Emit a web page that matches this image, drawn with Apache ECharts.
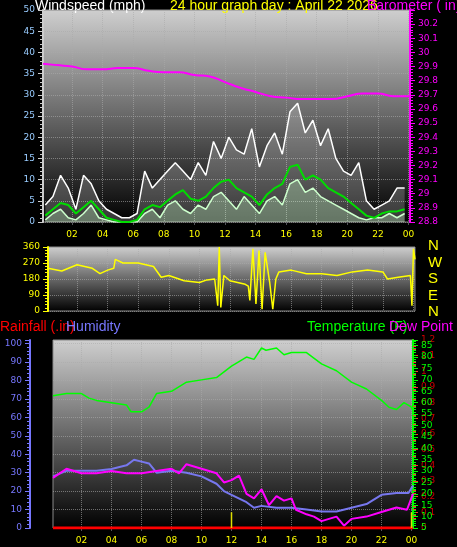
<!DOCTYPE html>
<html><head><meta charset="utf-8">
<script src="https://cdn.jsdelivr.net/npm/echarts@6/dist/echarts.min.js"></script>
<style>html,body{margin:0;background:#000}#c{width:457px;height:547px}</style>
</head><body><div id="c"></div>
<script>
// half-hour samples starting 00:15
var windTimes = [];
for (var i = 0; i < 48; i++) windTimes.push(0.25 + i * 0.5);
var windGust = [4,6,11,8,3,11,9,5,3,2,1,1,2,12,8,10,12,14,12,10,14,11,19,15,20,17,16,22,13,18,21,16,26,28,21,24,18,22,15,12,11,14,5,3,4,5,8,8];
var windAvg = [1.5,3,4.5,4,2,3.5,5,3,1,0.5,0,0,0.5,3,4,3.5,5,6.5,7.5,5.5,5,6,8,9.5,10,8,7,6,4,6.5,8,9,13,13.5,10,11,10,8,7,6,4.5,3,1.5,1,2,2.5,2.5,3];
var windNow = [0.5,2,3,1,0.5,2,4,1,0.5,0,0,0,0,2,3,1,4,5,3,2,4,3,6,7,5,3,6,4,2,5,6,4,9,10,7,8,6,5,4,3,2,1,0.5,1,1,2,1,2];
var baroTimes = [0.1,1,2,3,4,5,6,7,8,9,10,11,12,13,14,15,16,17,18,19,20,21,22,23,24.1];
var baroValues = [29.92,29.91,29.9,29.88,29.88,29.89,29.89,29.87,29.86,29.86,29.84,29.83,29.79,29.75,29.72,29.69,29.68,29.67,29.67,29.67,29.69,29.71,29.71,29.69,29.69];
var dirTimes = [0.1,1,2,3,3.5,4,4.4,4.5,5,6,7,7.5,8,9,10,10.5,11,11.2,11.3,11.4,11.6,12,13,13.2,13.3,13.5,13.7,13.9,14.1,14.3,14.6,14.8,15,15.2,16,17,18,19,20,21,22,22.3,23,23.8,23.9,24,24.1];
var dirValues = [240,225,260,240,210,230,240,290,270,270,250,190,200,170,160,175,180,30,360,20,200,170,150,140,60,350,40,340,10,330,160,10,180,220,230,210,210,200,220,230,220,180,190,200,30,350,290];
var tempTimes = [0.1,1,2,2.5,3,4,5,5.3,6,6.5,7,8,9,10,11,12,13,13.5,14,14.3,15,15.5,16,17,18,19,20,21,22,22.5,23,23.5,24,24.1];
var tempValues = [63,64,64,62,61,60,59,56,56,58,64,65,69,70,71,76,80,79,84,83,84,81,82,82,77,74,69,66,61,58,57,60,58,56];
var dewTimes = [0.1,1,2,3,4,5,6,7,8,8.5,9,10,11,11.5,12,12.5,13,13.5,14,14.5,15,15.5,16,16.3,17,17.5,18,18.5,19,19.5,20,21,22,23,23.7,24.1];
var dewValues = [27,31,29,29,30,29,29,30,31,29,33,31,29,25,26,28,20,18,22,15,19,17,18,13,11,10,8,9,10,6,9,10,12,14,13,20];
var humTimes = [0.1,1,2,3,4,5,5.5,6,6.5,7,8,9,10,11,11.5,12,13,13.5,14,15,16,17,18,19,20,21,22,23,23.8,24.1];
var humValues = [28,31,31,31,32,34,37,36,35,30,31,30,28,24,20,18,14,11,12,11,11,10,9,9,11,13,18,19,19,23];
var rainTimes = [0.1,24.1];
var rainValues = [0,0];
var rainRateTimes = [12,24];
var rainRateValues = [0.1,0.1];
var hourTicks = [2,4,6,8,10,12,14,16,18,20,22,24];

function pairs(t, v) { return t.map(function (x, i) { return [x, v[i]]; }); }
var rateSegs = [];
rainRateTimes.forEach(function (t, i) { rateSegs.push([t, 0], [t, rainRateValues[i]], '-'); });
var bg = {type:'linear',x:0,y:0,x2:0,y2:1,colorStops:[{offset:0,color:'#cfcfcf'},{offset:1,color:'#000'}]};
var grid = {show:true,backgroundColor:bg,borderColor:'#888',borderWidth:1};
function xAxis(gi, show) {
  return {type:'value',gridIndex:gi,min:0.1,max:24.1,
    axisLine:{show:false},
    axisTick:{show:show,customValues:hourTicks,color:'#ff0',length:3},
    axisLabel:{show:show,customValues:hourTicks,color:'#ff0',fontSize:9,
      formatter:function(v){v=Math.round(v)%24;return (v<10?'0':'')+v;}},
    splitLine:{show:true,lineStyle:{color:'#aaa',type:'dotted',opacity:0.6}}};
}
function yLine(c){return {show:true,lineStyle:{color:c,width:2}};}
var split = {show:true,lineStyle:{color:'#aaa',type:'dotted',opacity:0.6}};
var tf = 'DejaVu Sans';
var hf = '14px "Liberation Sans"';
var chart = echarts.init(document.getElementById('c'));
chart.setOption({
  backgroundColor:'#000',animation:false,
  textStyle:{fontFamily:tf},
  grid:[
    Object.assign({left:43,right:47,top:10,height:212},grid),
    Object.assign({left:48,right:42,top:247,height:64},grid),
    Object.assign({left:53,right:44,top:340,height:188},grid)
  ],
  graphic:[
    {type:'text',left:35,top:-1,style:{text:'Windspeed (mph)',fill:'#fff',font:hf}},
    {type:'text',left:170,top:-1,style:{text:'24 hour graph day : April 22 2026',fill:'#ff0',font:hf}},
    {type:'text',left:367,top:-1,style:{text:'Barometer ( in)',fill:'#f0f',font:hf}},
    {type:'text',left:428,top:238,style:{text:'N\nW\nS\nE\nN',fill:'#ff0',font:'15px "Liberation Sans"',lineHeight:16.5}},
    {type:'text',left:0,top:320,style:{text:'Rainfall (.in)',fill:'#f00',font:hf}},
    {type:'text',left:66,top:320,style:{text:'Humidity',fill:'#77f',font:hf}},
    {type:'text',left:307,top:320,style:{text:'Temperature (F)',fill:'#0f0',font:hf}},
    {type:'text',left:389,top:320,style:{text:'Dew Point (',fill:'#f0f',font:hf}}
  ],
  xAxis:[xAxis(0,true),xAxis(1,false),xAxis(2,true)],
  yAxis:[
    {type:'value',gridIndex:0,min:0,max:50,interval:5,axisLine:yLine('#ccc'),
      axisTick:{show:true,color:'#ccc'},minorTick:{show:true},axisLabel:{color:'#9cf',fontSize:9},splitLine:split},
    {type:'value',gridIndex:0,position:'right',min:28.8,max:30.3,interval:0.1,axisLine:yLine('#f0f'),
      axisTick:{show:true},minorTick:{show:true},splitLine:{show:false},
      axisLabel:{color:'#f0f',fontSize:9,showMaxLabel:false,formatter:function(v){return +v.toFixed(1);}}},
    {type:'value',gridIndex:1,min:0,max:360,interval:90,axisLine:yLine('#ff0'),
      axisTick:{show:true},minorTick:{show:true},axisLabel:{color:'#ff0',fontSize:9},splitLine:split},
    {type:'value',gridIndex:2,min:0,max:102,interval:10,offset:23,axisLine:yLine('#77f'),
      axisTick:{show:true},minorTick:{show:true},axisLabel:{color:'#77f',fontSize:9,showMaxLabel:false},splitLine:split},
    {type:'value',gridIndex:2,min:0,max:1.2,interval:0.1,axisLine:yLine('#f33'),
      axisTick:{show:true},minorTick:{show:true},splitLine:{show:false},
      axisLabel:{color:'#c00',fontSize:9,formatter:function(v){return +v.toFixed(1);}}},
    {type:'value',gridIndex:2,position:'right',min:5,max:87.5,interval:5,axisLine:yLine('#0f0'),
      axisTick:{show:true},minorTick:{show:true},splitLine:{show:false},
      axisLabel:{color:'#0f0',fontSize:9,showMaxLabel:false}}
  ],
  series:[
    {type:'line',xAxisIndex:0,yAxisIndex:0,data:pairs(windTimes,windGust),symbol:'none',
      lineStyle:{color:'#fff',width:1.5},areaStyle:{color:'rgba(255,255,255,0.3)'}},
    {type:'line',xAxisIndex:0,yAxisIndex:0,data:pairs(windTimes,windNow),symbol:'none',
      lineStyle:{color:'#cfc',width:1.5},areaStyle:{color:'rgba(200,255,200,0.45)'}},
    {type:'line',xAxisIndex:0,yAxisIndex:0,data:pairs(windTimes,windAvg),symbol:'none',
      lineStyle:{color:'#0d0',width:2}},
    {type:'line',xAxisIndex:0,yAxisIndex:1,data:pairs(baroTimes,baroValues),symbol:'none',smooth:true,
      lineStyle:{color:'#f0f',width:2}},
    {type:'line',xAxisIndex:1,yAxisIndex:2,data:pairs(dirTimes,dirValues),symbol:'none',
      lineStyle:{color:'#ff0',width:1.5}},
    {type:'line',xAxisIndex:2,yAxisIndex:5,data:pairs(tempTimes,tempValues),symbol:'none',
      lineStyle:{color:'#0f0',width:1.5}},
    {type:'line',xAxisIndex:2,yAxisIndex:3,data:pairs(humTimes,humValues),symbol:'none',
      lineStyle:{color:'#77e',width:2}},
    {type:'line',xAxisIndex:2,yAxisIndex:5,data:pairs(dewTimes,dewValues),symbol:'none',
      lineStyle:{color:'#f0f',width:2}},
    {type:'line',xAxisIndex:2,yAxisIndex:4,data:rateSegs,symbol:'none',connectNulls:false,
      lineStyle:{color:'#dd0',width:1.5},z:5},
    {type:'line',xAxisIndex:2,yAxisIndex:4,data:pairs(rainTimes,rainValues),symbol:'none',
      lineStyle:{color:'#f00',width:3}}
  ]
});
</script></body></html>
